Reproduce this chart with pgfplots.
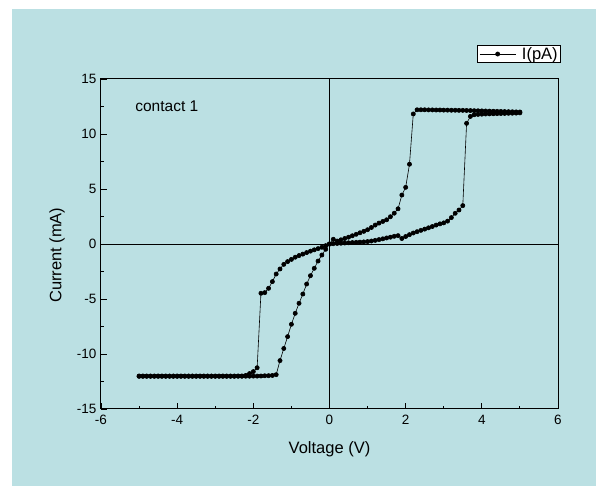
\documentclass[border=0pt]{standalone}
\usepackage{fontspec}
\setmainfont{Liberation Sans}
\usepackage{pgfplots}
\pgfplotsset{compat=1.18}
\definecolor{panel}{RGB}{187,224,227}

\begin{document}
\begin{tikzpicture}
% page: 596 x 486, axis box sits at (0,0)-(457,330)
\fill[white] (-101pt,-77pt) rectangle (495pt,409pt);
\fill[panel] (-89pt,-77pt) rectangle (495pt,400pt);
\begin{axis}[
    at={(0pt,0pt)}, anchor=south west,
    scale only axis,
    width=457pt, height=330pt,
    xmin=-6, xmax=6,
    ymin=-15, ymax=15,
    xtick={-6,-4,...,6},
    ytick={-15,-10,...,15},
    minor x tick num=1,
    minor y tick num=1,
    tick align=inside,
    xtick pos=left, ytick pos=left,
    major tick length=6pt,
    minor tick length=3pt,
    every tick/.style={black, line width=0.9pt},
    axis line style={line width=1pt},
    /pgf/number format/assume math mode=true,
    ticklabel style={font=\fontsize{13.5}{15}\selectfont},
    xticklabel style={yshift=-3pt},
    yticklabel style={xshift=-1pt},
    xlabel={Voltage (V)},
    ylabel={Current (mA)},
    label style={font=\fontsize{16.5}{18}\selectfont},
    xlabel style={at={(axis description cs:0.5,-0.121)}, anchor=center},
    ylabel style={at={(axis description cs:-0.096,0.466)}, anchor=center},
    legend style={at={(1.0066,1.103)}, anchor=north east,
        draw=black, line width=0.6pt, fill=white,
        font=\fontsize{16.5}{18}\selectfont,
        inner xsep=2pt, inner ysep=1pt,
        nodes={inner sep=1pt},
        /tikz/every odd column/.append style={column sep=5pt}},
    legend image code/.code={\draw[mark repeat=2,mark phase=2,#1]
        plot coordinates {(0pt,0pt) (18pt,0pt) (36pt,0pt)};},
]
    % zero lines
    \draw[black, line width=0.8pt] (axis cs:-6,0) -- (axis cs:6,0);
    \draw[black, line width=0.8pt] (axis cs:0,-15) -- (axis cs:0,15);

    % sweep 0 -> 5 -> 0 -> -5 -> 0
    \addplot[black, line width=0.6pt, mark=*, mark size=2.1pt,
        mark options={solid, fill=black}] coordinates {
        (0,0) (0.1,0.03) (0.2,0.05) (0.3,0.07) (0.4,0.09) (0.5,0.11)
        (0.6,0.13) (0.7,0.15) (0.8,0.17) (0.9,0.19) (1.0,0.22) (1.1,0.27)
        (1.2,0.33) (1.3,0.40) (1.4,0.47) (1.5,0.55) (1.6,0.62) (1.7,0.70)
        (1.8,0.76) (1.9,0.50) (2.0,0.68) (2.1,0.85) (2.2,1.00) (2.3,1.12)
        (2.4,1.24) (2.5,1.35) (2.6,1.47) (2.7,1.59) (2.8,1.72) (2.9,1.83)
        (3.0,1.92) (3.1,2.08) (3.2,2.40) (3.3,2.79) (3.4,3.09) (3.5,3.49)
        (3.6,10.97) (3.7,11.60) (3.8,11.75) (3.9,11.78) (4.0,11.80)
        (4.1,11.82) (4.2,11.83) (4.3,11.84) (4.4,11.85) (4.5,11.86)
        (4.6,11.87) (4.7,11.88) (4.8,11.89) (4.9,11.90) (5.0,11.92)
        (5.0,12.00) (4.9,12.01) (4.8,12.02) (4.7,12.03) (4.6,12.04)
        (4.5,12.05) (4.4,12.06) (4.3,12.07) (4.2,12.08) (4.1,12.09)
        (4.0,12.10) (3.9,12.11) (3.8,12.12) (3.7,12.13) (3.6,12.14)
        (3.5,12.15) (3.4,12.15) (3.3,12.16) (3.2,12.16) (3.1,12.17)
        (3.0,12.17) (2.9,12.18) (2.8,12.18) (2.7,12.19) (2.6,12.19)
        (2.5,12.20) (2.4,12.20) (2.3,12.20) (2.2,11.82) (2.1,7.25)
        (2.0,5.15) (1.9,4.45) (1.8,3.20) (1.7,2.80) (1.6,2.48) (1.5,2.20)
        (1.4,2.05) (1.3,1.90) (1.2,1.72) (1.1,1.50) (1.0,1.30) (0.9,1.15)
        (0.8,1.02) (0.7,0.88) (0.6,0.75) (0.5,0.62) (0.4,0.50) (0.3,0.38)
        (0.2,0.27) (0.1,0.43) (0,0)
        (-0.1,-0.15) (-0.2,-0.30) (-0.3,-0.42) (-0.4,-0.53) (-0.5,-0.65)
        (-0.6,-0.78) (-0.7,-0.92) (-0.8,-1.05) (-0.9,-1.20) (-1.0,-1.40)
        (-1.1,-1.60) (-1.2,-1.85) (-1.3,-2.27) (-1.4,-2.73) (-1.5,-3.42)
        (-1.6,-4.03) (-1.7,-4.42) (-1.8,-4.48) (-1.9,-11.25) (-2.0,-11.60)
        (-2.1,-11.78) (-2.2,-11.95) (-2.3,-12.00) (-2.4,-12.00) (-2.5,-12.00)
        (-2.6,-12.00) (-2.7,-12.00) (-2.8,-12.00) (-2.9,-12.00) (-3.0,-12.00)
        (-3.1,-12.00) (-3.2,-12.00) (-3.3,-12.00) (-3.4,-12.00) (-3.5,-12.00)
        (-3.6,-12.00) (-3.7,-12.00) (-3.8,-12.00) (-3.9,-12.00) (-4.0,-12.00)
        (-4.1,-12.00) (-4.2,-12.00) (-4.3,-12.00) (-4.4,-12.00) (-4.5,-12.00)
        (-4.6,-12.00) (-4.7,-12.00) (-4.8,-12.00) (-4.9,-12.00) (-5.0,-12.00)
        (-5.0,-12.03) (-4.9,-12.03) (-4.8,-12.03) (-4.7,-12.03) (-4.6,-12.03)
        (-4.5,-12.03) (-4.4,-12.03) (-4.3,-12.03) (-4.2,-12.03) (-4.1,-12.03)
        (-4.0,-12.03) (-3.9,-12.03) (-3.8,-12.03) (-3.7,-12.03) (-3.6,-12.03)
        (-3.5,-12.03) (-3.4,-12.03) (-3.3,-12.03) (-3.2,-12.03) (-3.1,-12.03)
        (-3.0,-12.03) (-2.9,-12.03) (-2.8,-12.03) (-2.7,-12.03) (-2.6,-12.03)
        (-2.5,-12.03) (-2.4,-12.02) (-2.3,-12.02) (-2.2,-12.02) (-2.1,-12.02)
        (-2.0,-12.01) (-1.9,-12.01) (-1.8,-12.00) (-1.7,-11.98) (-1.6,-11.97)
        (-1.5,-11.95) (-1.4,-11.88) (-1.3,-10.60) (-1.2,-9.50) (-1.1,-8.42)
        (-1.0,-7.30) (-0.9,-6.30) (-0.8,-5.39) (-0.7,-4.55) (-0.6,-3.64)
        (-0.5,-2.88) (-0.4,-2.21) (-0.3,-1.55) (-0.2,-1.00) (-0.1,-0.48)
        (0,0)
    };
    \addlegendentry{I(pA)}

    \node[anchor=base west, font=\fontsize{15.5}{18}\selectfont]
        at (axis cs:-5.19,12.03) {contact 1};
\end{axis}
\pgfresetboundingbox
\path[use as bounding box] (-101pt,-77pt) rectangle (495pt,409pt);
\end{tikzpicture}
\end{document}
